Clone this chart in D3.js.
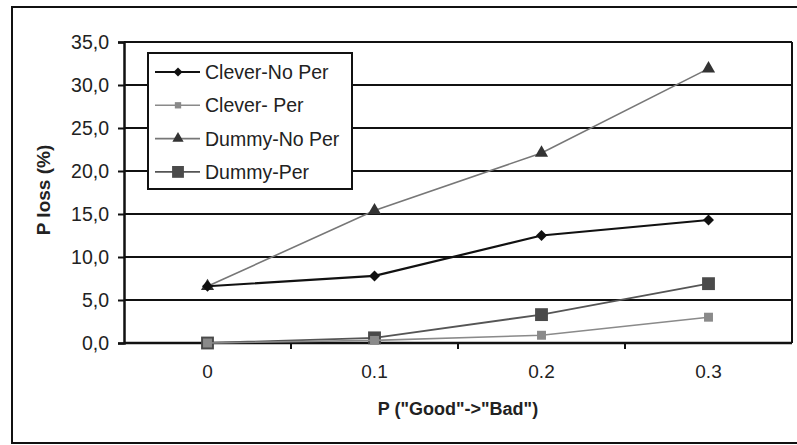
<!DOCTYPE html>
<html>
<head>
<meta charset="utf-8">
<script src="https://cdn.jsdelivr.net/npm/d3@7"></script>
<style>
  body { margin: 0; background: #fff; }
  text { font-family: Arial, "Liberation Sans", sans-serif; }
</style>
</head>
<body>
<svg id="chart"></svg>
<script>
// data
var categories = ["0", "0.1", "0.2", "0.3"];
var seriesNames = ["Clever-No Per", "Clever- Per", "Dummy-No Per", "Dummy-Per"];
var cleverNoPer = [6.6, 7.8, 12.5, 14.3];
var cleverPer = [0.0, 0.3, 0.9, 3.0];
var dummyNoPer = [6.6, 15.4, 22.1, 31.9];
var dummyPer = [0.0, 0.6, 3.3, 6.9];
var yTicks = [0, 5, 10, 15, 20, 25, 30, 35];

window.onload = function() {
var w = 797, h = 445;
var pLeft = 124, pRight = 792, pTop = 42, pBottom = 343;

var svg = d3.select("#chart").attr("width", w).attr("height", h);

// outer frame
svg.append("rect")
  .attr("x", 12).attr("y", 7)
  .attr("width", 800).attr("height", 436)
  .attr("fill", "none").attr("stroke", "#111").attr("stroke-width", 2);

var x = d3.scaleBand().domain(categories).range([pLeft, pRight]);
var y = d3.scaleLinear().domain([0, 35]).range([pBottom, pTop]);

// gridlines
svg.append("g")
  .selectAll("line")
  .data(yTicks.slice(1))
  .enter()
  .append("line")
  .attr("x1", pLeft).attr("x2", pRight)
  .attr("y1", function(d) { return y(d); })
  .attr("y2", function(d) { return y(d); })
  .attr("stroke", "#111").attr("stroke-width", 2);

// right border of plot
svg.append("line")
  .attr("x1", pRight).attr("x2", pRight)
  .attr("y1", pTop).attr("y2", pBottom)
  .attr("stroke", "#111").attr("stroke-width", 2);

// y axis
var yAxis = svg.append("g")
  .attr("transform", "translate(" + pLeft + ",0)")
  .call(d3.axisLeft(y).tickValues(yTicks).tickSize(6).tickPadding(9)
    .tickFormat(function(d) { return d3.format(".1f")(d).replace(".", ","); }));
yAxis.select(".domain").attr("stroke", "#111").attr("stroke-width", 2.5);
yAxis.selectAll(".tick line").attr("stroke", "#111").attr("stroke-width", 2);
yAxis.selectAll("text").style("font-size", "19.5px").attr("fill", "#222")
  .attr("font-family", "Arial, 'Liberation Sans', sans-serif");

// x axis: ticks at band boundaries
var xAxis = svg.append("g")
  .attr("transform", "translate(0," + pBottom + ")");
xAxis.append("line")
  .attr("x1", pLeft).attr("x2", pRight)
  .attr("stroke", "#111").attr("stroke-width", 2.5);
xAxis.selectAll(".btick")
  .data(categories.slice(1))
  .enter()
  .append("line")
  .attr("x1", function(d) { return x(d); })
  .attr("x2", function(d) { return x(d); })
  .attr("y1", 0).attr("y2", 6)
  .attr("stroke", "#111").attr("stroke-width", 2);
xAxis.selectAll(".lbl")
  .data(categories)
  .enter()
  .append("text")
  .attr("x", function(d) { return x(d) + x.bandwidth() / 2; })
  .attr("y", 35)
  .attr("text-anchor", "middle")
  .style("font-size", "19px").attr("fill", "#222")
  .text(function(d) { return d; });

// axis titles
svg.append("text")
  .attr("x", pLeft + (pRight - pLeft) / 2)
  .attr("y", 415)
  .attr("text-anchor", "middle")
  .style("font-size", "18px").style("font-weight", "bold").attr("fill", "#222")
  .text('P ("Good"->"Bad")');

svg.append("text")
  .attr("transform", "translate(50,190) rotate(-90)")
  .attr("text-anchor", "middle")
  .style("font-size", "19px").style("font-weight", "bold").attr("fill", "#222")
  .text("P loss (%)");

// series styles (rot = rotate the symbol, used for the diamond)
var series = [
  { name: seriesNames[0], values: cleverNoPer, line: "#111", fill: "#111", width: 2.2, shape: d3.symbolSquare, rot: 45, size: 60, lsize: 40 },
  { name: seriesNames[1], values: cleverPer, line: "#8a8a8a", fill: "#8a8a8a", width: 1.6, shape: d3.symbolSquare, rot: 0, size: 80, lsize: 40 },
  { name: seriesNames[2], values: dummyNoPer, line: "#777", fill: "#333", width: 1.6, shape: d3.symbolTriangle, rot: 0, size: 75, lsize: 55 },
  { name: seriesNames[3], values: dummyPer, line: "#555", fill: "#4a4a4a", width: 1.8, shape: d3.symbolSquare, rot: 0, size: 165, lsize: 140 }
];

var line = d3.line()
  .x(function(d, i) { return x(categories[i]) + x.bandwidth() / 2; })
  .y(function(d) { return y(d); });

// draw back to front so the black line sits on top
[2, 3, 1, 0].forEach(function(k) {
  var s = series[k];
  svg.append("path")
    .datum(s.values)
    .attr("d", line)
    .attr("fill", "none")
    .attr("stroke", s.line)
    .attr("stroke-width", s.width);
  svg.append("g")
    .selectAll("path")
    .data(s.values)
    .enter()
    .append("path")
    .attr("d", d3.symbol().type(s.shape).size(s.size))
    .attr("transform", function(d, i) {
      return "translate(" + (x(categories[i]) + x.bandwidth() / 2) + "," + y(d) + ") rotate(" + s.rot + ")";
    })
    .attr("fill", s.fill);
});

// legend
var legend = svg.append("g").attr("transform", "translate(148,53)");
legend.append("rect")
  .attr("width", 204).attr("height", 136)
  .attr("fill", "#fff").attr("stroke", "#111").attr("stroke-width", 2);

var item = legend.selectAll(".item")
  .data(series)
  .enter()
  .append("g")
  .attr("transform", function(d, i) { return "translate(0," + (19 + i * 33.3) + ")"; });
item.append("line")
  .attr("x1", 7).attr("x2", 52)
  .attr("stroke", function(d) { return d.line; })
  .attr("stroke-width", function(d) { return d.width; });
item.append("path")
  .attr("d", function(d) { return d3.symbol().type(d.shape).size(d.lsize)(); })
  .attr("transform", function(d) { return "translate(30,0) rotate(" + d.rot + ")"; })
  .attr("fill", function(d) { return d.fill; });
item.append("text")
  .attr("x", 57).attr("y", 7)
  .style("font-size", "19.5px").attr("fill", "#222")
  .text(function(d) { return d.name; });
};
</script>
</body>
</html>
